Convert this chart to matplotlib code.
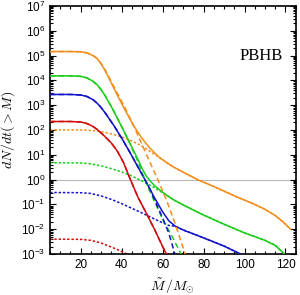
import numpy as np
import matplotlib
matplotlib.use("Agg")
import matplotlib.pyplot as plt
from matplotlib.ticker import MultipleLocator, LogLocator, NullFormatter

# values, stored as log10(dN/dt)
x_orange = [5, 15, 20, 23, 26, 28, 30, 32, 34, 38, 42, 46, 50, 54, 58, 62, 65, 70, 77, 85, 96, 105, 110, 115, 119, 122.5]
orange_total = [5.16, 5.16, 5.15, 5.11, 5.0, 4.88, 4.66, 4.38, 4.05, 3.38, 2.75, 2.15, 1.65, 1.25, 0.92, 0.68, 0.52,
                 0.3, 0.0, -0.28, -0.69, -1.0, -1.2, -1.45, -1.72, -2.0]
x_orange_dash = [5, 15, 20, 23, 26, 28, 30, 32, 34, 38, 42, 46, 50, 54, 58, 62, 66, 71]
orange_dash = [5.16, 5.16, 5.15, 5.11, 5.0, 4.88, 4.67, 4.41, 4.1, 3.46, 2.83, 2.14, 1.4, 0.66, -0.07, -0.85, -1.75, -3.0]
x_orange_dot = [5, 20, 25, 30, 35, 40, 45, 50, 55, 60, 65, 70, 77, 85, 96, 105, 110, 115, 119, 122.5]
orange_dot = [2.0, 2.0, 1.98, 1.93, 1.84, 1.72, 1.55, 1.35, 1.07, 0.8, 0.52, 0.3, 0.0, -0.28, -0.69, -1.0, -1.2,
              -1.45, -1.72, -2.0]

x_green = [5, 15, 20, 23, 26, 28, 30, 32, 36, 40, 44, 48, 50, 52, 54, 56, 58, 60, 65, 70, 80, 90, 100, 110, 115, 119.5]
green_total = [4.18, 4.18, 4.16, 4.1, 3.96, 3.82, 3.62, 3.37, 2.78, 2.13, 1.47, 0.8, 0.44, 0.14, -0.06, -0.24, -0.38,
               -0.51, -0.8, -1.02, -1.43, -1.8, -2.15, -2.45, -2.65, -3.0]
x_green_dash = [5, 15, 20, 23, 26, 28, 30, 32, 36, 40, 44, 48, 50, 52, 55, 60, 65, 69]
green_dash = [4.18, 4.18, 4.16, 4.1, 3.96, 3.82, 3.62, 3.37, 2.78, 2.13, 1.45, 0.72, 0.27, -0.15, -0.7, -1.6, -2.35, -3.0]
x_green_dot = [5, 20, 25, 30, 35, 40, 45, 50, 55, 60, 65, 70, 80, 90, 100, 110, 115, 119.5]
green_dot = [0.68, 0.67, 0.63, 0.55, 0.44, 0.31, 0.14, -0.06, -0.28, -0.53, -0.8, -1.02, -1.43, -1.8, -2.15, -2.45,
             -2.65, -3.0]

x_blue = [5, 15, 20, 23, 26, 28, 30, 32, 36, 40, 44, 48, 52, 56, 60, 63, 66, 70, 80, 90, 98]
blue_total = [3.43, 3.43, 3.41, 3.35, 3.22, 3.08, 2.9, 2.68, 2.2, 1.67, 1.1, 0.5, -0.1, -0.73, -1.3, -1.66, -1.87,
              -2.03, -2.35, -2.68, -3.0]
x_blue_dash = [5, 15, 20, 23, 26, 28, 30, 32, 36, 40, 44, 48, 52, 54, 56, 58, 60, 63, 66]
blue_dash = [3.43, 3.43, 3.41, 3.35, 3.22, 3.08, 2.9, 2.68, 2.2, 1.67, 1.1, 0.5, -0.1, -0.42, -0.8, -1.17, -1.55,
             -2.15, -3.0]
x_blue_dot = [5, 20, 25, 30, 35, 40, 45, 50, 55, 60, 63, 66, 70, 80, 90, 98]
blue_dot = [-0.52, -0.53, -0.56, -0.66, -0.8, -0.97, -1.16, -1.35, -1.55, -1.74, -1.85, -1.88, -2.03, -2.35, -2.68, -3.0]

x_red = [5, 15, 20, 23, 26, 28, 31, 35, 38, 41, 44, 48, 52, 56, 60, 61.8]
red_total = [2.34, 2.34, 2.32, 2.26, 2.14, 2.02, 1.8, 1.47, 1.13, 0.67, 0.05, -0.72, -1.35, -2.0, -2.7, -3.0]
red_dash = [2.34, 2.34, 2.32, 2.26, 2.14, 2.02, 1.8, 1.47, 1.13, 0.67, 0.05, -0.72, -1.35, -2.0, -2.7, -3.0]
x_red_dot = [5, 20, 25, 30, 35, 40, 42.5]
red_dot = [-2.4, -2.41, -2.45, -2.56, -2.72, -2.9, -3.0]

series = [
    ('#f28e1c', x_orange, orange_total, x_orange_dash, orange_dash, x_orange_dot, orange_dot),
    ('#1ccc1c', x_green, green_total, x_green_dash, green_dash, x_green_dot, green_dot),
    ('#1212c8', x_blue, blue_total, x_blue_dash, blue_dash, x_blue_dot, blue_dot),
    ('#d01010', x_red, red_total, x_red, red_dash, x_red_dot, red_dot),
]

plt.rcParams['font.family'] = ['Liberation Sans', 'DejaVu Sans']

fig = plt.figure(figsize=(3.0, 2.95), dpi=100)
ax = fig.add_axes([0.1667, 0.139, 0.819, 0.841])

ax.axhline(1.0, color='#b8b8b8', lw=0.8, zorder=1)

for color, xs, ys, xd, yd, xo, yo in series:
    ax.plot(xo, 10 ** np.array(yo), color=color, lw=1.1, dashes=(1.6, 1.2), zorder=2)
    ax.plot(xs, 10 ** np.array(ys), color=color, lw=1.1, zorder=3)
    ax.plot(xd, 10 ** np.array(yd), color=color, lw=1.1, dashes=(3.5, 2.2), zorder=4)

ax.set_yscale('log')
ax.set_xlim(5, 125)
ax.set_ylim(1e-3, 1e7)

ax.xaxis.set_major_locator(MultipleLocator(20))
ax.xaxis.set_minor_locator(MultipleLocator(5))
ax.yaxis.set_major_locator(LogLocator(base=10, numticks=20))
ax.yaxis.set_minor_locator(LogLocator(base=10, subs=np.arange(2, 10), numticks=20))
ax.yaxis.set_minor_formatter(NullFormatter())

ax.tick_params(which='both', direction='in', top=True, right=True, labelsize=8.5, width=0.8)
ax.tick_params(which='major', length=4.5)
ax.tick_params(which='minor', length=2.5)
for s in ax.spines.values():
    s.set_linewidth(1.2)

ax.set_xlabel(r'$\tilde{M}\,/M_{\odot}$', fontsize=10, math_fontfamily='cm', labelpad=4)
ax.set_ylabel(r'$dN/dt(>\tilde{M})$', fontsize=10, math_fontfamily='cm', labelpad=2)

ax.text(0.86, 0.80, 'PBHB', transform=ax.transAxes, ha='center', va='center',
        fontsize=12, family='Liberation Serif')

fig.savefig('out.png', dpi=100)
